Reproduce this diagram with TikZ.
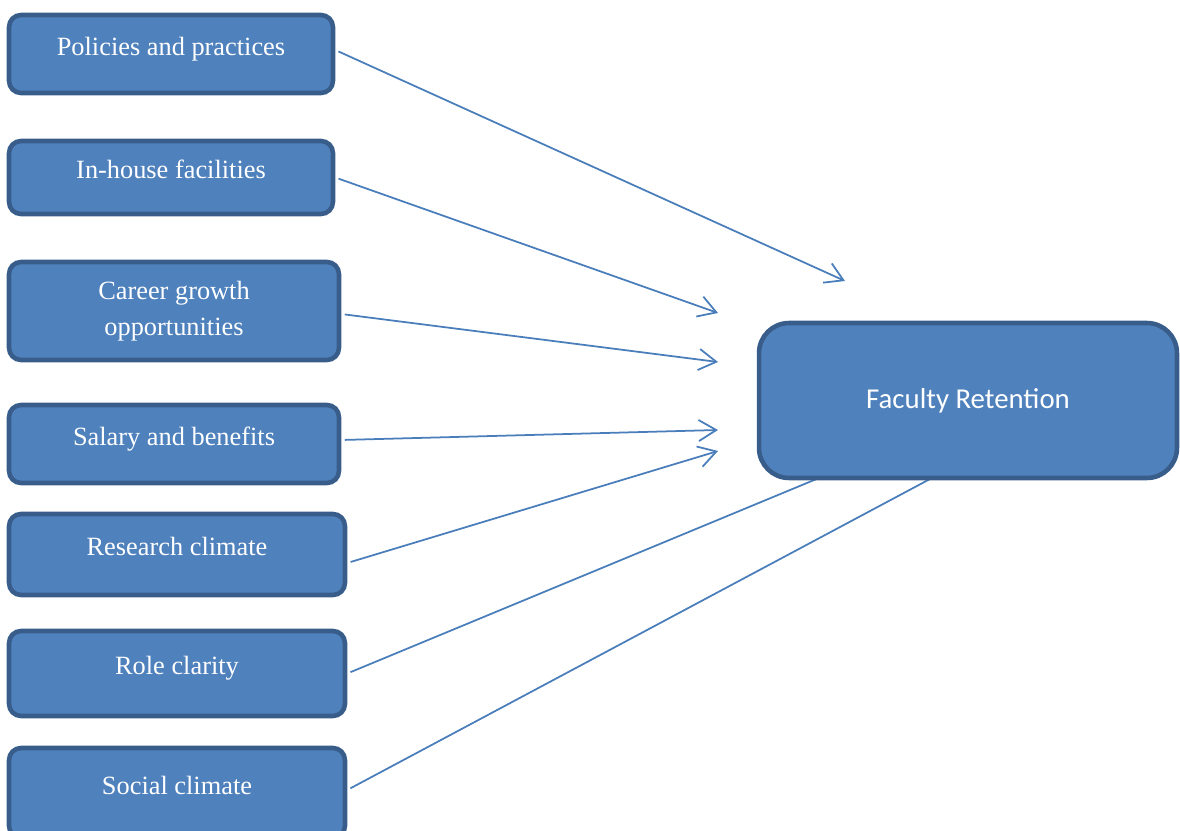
\documentclass[tikz,border=0pt]{standalone}
\usepackage{fontspec}
\setmainfont{Liberation Serif}
\newfontfamily\facfont{Carlito}
\usepackage{xcolor}
\usepackage{tikz}
\usetikzlibrary{arrows.meta}
\usetikzlibrary{backgrounds}

\definecolor{boxfill}{HTML}{4F81BD}
\definecolor{boxline}{HTML}{385D8A}
\definecolor{arrline}{HTML}{4A7EBB}

\tikzset{
	factor/.style={draw=boxline,fill=boxfill,line width=2.6pt,rounded corners=0.24cm,
		text=white,inner sep=0pt,font=\fontsize{15}{20.4}\selectfont},
	oneline/.style={text height=0.65em,text depth=0.5em},
	link/.style={draw=arrline,line width=1pt,shorten <=2pt},
	linkarr/.style={link,-{Straight Barb[length=10pt,width=12pt]}}
}

\begin{document}
\begin{tikzpicture}[x=0.02cm,y=-0.02cm]
	\useasboundingbox (0,0) rectangle (1180,831);
	% factors
	\node[factor,oneline,minimum width=6.48cm,minimum height=1.56cm] (pol) at (171,54) {Policies and practices};
	\node[factor,oneline,minimum width=6.48cm,minimum height=1.46cm] (inh) at (171,177.5) {In-house facilities};
	\node[factor,align=center,minimum width=6.6cm,minimum height=1.96cm] (car) at (174,311) {Career growth\\opportunities};
	\node[factor,oneline,minimum width=6.6cm,minimum height=1.56cm] (sal) at (174,444) {Salary and benefits};
	\node[factor,oneline,minimum width=6.72cm,minimum height=1.62cm] (res) at (177,554.5) {Research climate};
	\node[factor,oneline,minimum width=6.72cm,minimum height=1.70cm] (rol) at (177,673.5) {Role clarity};
	\node[factor,oneline,minimum width=6.72cm,minimum height=1.80cm] (soc) at (177,793) {Social climate};
	% outcome
	\node[factor,font=\facfont\fontsize{16.4}{20}\selectfont,rounded corners=0.6cm,
		minimum width=8.36cm,minimum height=3.1cm] (fac) at (968,400.5) {Faculty Retention};
	% loose ends of the links
	\coordinate (polEnd) at (845,281);
	\coordinate (inhEnd) at (718,313);
	\coordinate (carEnd) at (718,362);
	\coordinate (salEnd) at (718,430);
	\coordinate (resEnd) at (718,451);
	\coordinate (rolEnd) at (860,461);
	\coordinate (socEnd) at (960,463);
	\begin{scope}[on background layer]
		\draw[linkarr] ([yshift=0.08cm]pol.east) -- (polEnd);
		\draw[linkarr] (inh.east) -- (inhEnd);
		\draw[linkarr] ([yshift=-0.06cm]car.east) -- (carEnd);
		\draw[linkarr] ([yshift=0.08cm]sal.east) -- (salEnd);
		\draw[linkarr] ([yshift=-0.17cm]res.east) -- (resEnd);
		% these two run in under the box
		\draw[link] (rol.east) -- (rolEnd);
		\draw[link] ([yshift=0.06cm]soc.east) -- (socEnd);
	\end{scope}
\end{tikzpicture}
\end{document}
